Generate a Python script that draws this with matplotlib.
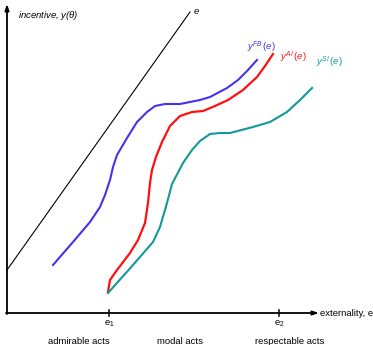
import matplotlib.pyplot as plt

plt.rcParams["font.family"] = ["Liberation Sans", "DejaVu Sans"]
plt.rcParams["mathtext.fontset"] = "custom"
plt.rcParams["mathtext.rm"] = "Liberation Sans"
plt.rcParams["mathtext.it"] = "Liberation Sans:italic"

# curves (externality, incentive)
fb_x = [46, 66, 83, 93, 98, 103, 106, 110, 120, 130, 140, 148, 158, 173, 193, 203, 220, 231, 240, 250]
fb_y = [48, 71, 91, 106, 118, 133, 146, 158, 175, 191, 201, 207, 209, 209, 213, 216, 225, 233, 242, 253]

ai_x = [101, 103, 110, 123, 131, 138, 141, 143, 145, 149, 155, 163, 173, 185, 196, 208, 221, 236, 250, 258, 266]
ai_y = [21, 33, 43, 60, 73, 90, 110, 130, 143, 156, 171, 187, 197, 201, 202, 207, 213, 223, 236, 247, 259]

si_x = [101, 126, 146, 153, 160, 165, 176, 185, 193, 203, 213, 223, 246, 263, 280, 293, 305]
si_y = [20, 48, 71, 86, 110, 129, 150, 163, 172, 179, 180, 180, 186, 191, 201, 213, 225]

diag_x = [0, 183]
diag_y = [43, 301]

tick_pos = [102, 272]
tick_labels = ["e$_1$", "e$_2$"]
region_pos = [72, 173, 283]
region_labels = ["admirable acts", "modal acts", "respectable acts"]

fig = plt.figure(figsize=(3.73, 3.45), dpi=100)
ax = fig.add_axes([0, 0, 1, 1])
ax.set_xlim(-7, 366)
ax.set_ylim(-32, 313)
ax.axis("off")

fs = 6.8

# axes with arrows
ax.annotate("", xy=(0, 309), xytext=(0, -1),
            arrowprops=dict(arrowstyle="-|>,head_width=0.12,head_length=0.35",
                            color="black", lw=1.3, shrinkA=0, shrinkB=0))
ax.annotate("", xy=(312, 0), xytext=(-1, 0),
            arrowprops=dict(arrowstyle="-|>,head_width=0.12,head_length=0.35",
                            color="black", lw=1.3, shrinkA=0, shrinkB=0))
ax.text(313, 0, "externality, e", fontsize=fs, va="center", ha="left")
ax.text(11, 298, r"incentive, y($\theta$)", fontsize=fs, style="italic",
        va="center", ha="left")

for p, lab in zip(tick_pos, tick_labels):
    ax.plot([p, p], [-3, 3], color="black", lw=1.1)
    ax.text(p, -11, lab, fontsize=fs, ha="center", va="center")
for p, lab in zip(region_pos, region_labels):
    ax.text(p, -29, lab, fontsize=fs, ha="center", va="center")

ax.plot(diag_x, diag_y, color="black", lw=0.8)
ax.text(187, 301, "e", fontsize=fs, ha="left", va="center", style="italic")

ax.plot(fb_x, fb_y, color="#4433ee", lw=1.5, solid_joinstyle="round")
ax.plot(ai_x, ai_y, color="#ff1010", lw=1.6, solid_joinstyle="round")
ax.plot(si_x, si_y, color="#119999", lw=1.5, solid_joinstyle="round")

ax.text(240, 266, r"$y^{FB}\,(e)$", color="#4433ee", fontsize=fs, ha="left", va="center")
ax.text(273, 256, r"$y^{AI}\,(e)$", color="#ff1010", fontsize=fs, ha="left", va="center")
ax.text(309, 251, r"$y^{SI}\,(e)$", color="#119999", fontsize=fs, ha="left", va="center")

fig.savefig("out.png", dpi=100)
